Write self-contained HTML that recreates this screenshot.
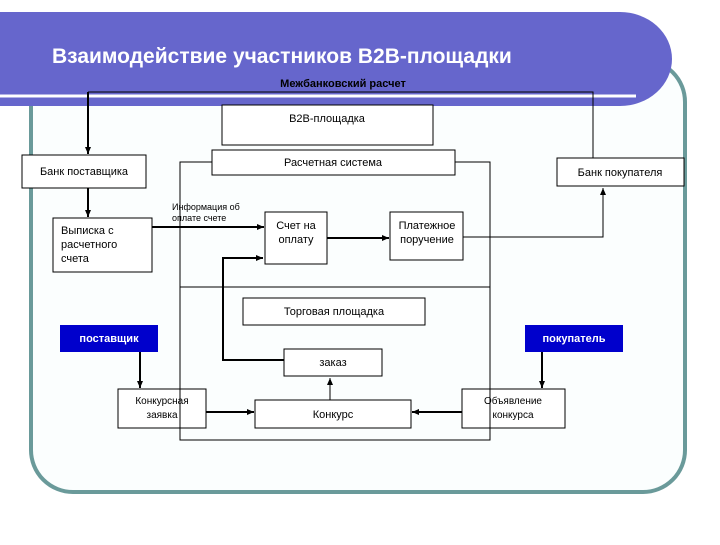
<!DOCTYPE html>
<html><head><meta charset="utf-8"><style>
body{margin:0;width:720px;height:540px;background:#fff;overflow:hidden;font-family:"Liberation Sans",sans-serif}
</style></head><body>
<svg width="720" height="540" xmlns="http://www.w3.org/2000/svg" font-family="Liberation Sans, sans-serif">
<defs><marker id="a" markerWidth="8" markerHeight="8" refX="7" refY="4" orient="auto" markerUnits="userSpaceOnUse"><path d="M0,1 L7,4 L0,7z" fill="#000"/></marker></defs>
<rect x="31" y="60" width="654" height="432" rx="42" fill="#fbfefe" stroke="#6a9a9a" stroke-width="4"/>
<path d="M0,12 H620 A52,47 0 0 1 620,106 H0z" fill="#6666cc"/>
<line x1="0" y1="96" x2="636" y2="96" stroke="#fff" stroke-width="3"/>
<text x="52" y="63" font-size="21" font-weight="bold" fill="#fff">Взаимодействие участников B2B-площадки</text>
<text x="343" y="87" font-size="11" font-weight="bold" text-anchor="middle">Межбанковский расчет</text>
<g fill="#fff" stroke="#000" stroke-width="1">
<rect x="222" y="105" width="211" height="40"/>
<rect x="212" y="150" width="243" height="25"/>
<rect x="22" y="155" width="124" height="33"/>
<rect x="557" y="158" width="127" height="28"/>
<rect x="53" y="218" width="99" height="54"/>
<rect x="265" y="212" width="62" height="52"/>
<rect x="390" y="212" width="73" height="48"/>
<rect x="243" y="298" width="182" height="27"/>
<rect x="284" y="349" width="98" height="27"/>
<rect x="118" y="389" width="88" height="39"/>
<rect x="255" y="400" width="156" height="28"/>
<rect x="462" y="389" width="103" height="39"/>
</g>
<rect x="60" y="325" width="98" height="27" fill="#0000cc"/>
<rect x="525" y="325" width="98" height="27" fill="#0000cc"/>
<g fill="none" stroke="#000" stroke-width="1">
<path d="M212,162 H180 V440 H490 V162 H455"/>
<line x1="180" y1="287" x2="490" y2="287"/>
<path d="M88,92 H593 V158"/>
<path d="M284,360 H223 V258 H263" stroke-width="2" marker-end="url(#a)"/>
<path d="M463,237 H603 V188" marker-end="url(#a)"/>
<path d="M330,400 V378" marker-end="url(#a)"/>
</g>
<g stroke="#000" stroke-width="2" marker-end="url(#a)">
<line x1="88" y1="92" x2="88" y2="154"/>
<line x1="88" y1="188" x2="88" y2="217"/>
<line x1="152" y1="227" x2="264" y2="227"/>
<line x1="327" y1="238" x2="389" y2="238"/>
<line x1="140" y1="352" x2="140" y2="388"/>
<line x1="542" y1="352" x2="542" y2="388"/>
<line x1="206" y1="412" x2="254" y2="412"/>
<line x1="462" y1="412" x2="412" y2="412"/>
</g>
<g font-size="11" text-anchor="middle">
<text x="327" y="122">B2B-площадка</text>
<text x="333" y="166">Расчетная система</text>
<text x="84" y="175">Банк поставщика</text>
<text x="620" y="176">Банк покупателя</text>
<text x="296" y="229">Счет на</text><text x="296" y="243">оплату</text>
<text x="427" y="229">Платежное</text><text x="427" y="243">поручение</text>
<text x="334" y="315">Торговая площадка</text>
<text x="333" y="366">заказ</text>
<text x="162" y="404" font-size="10">Конкурсная</text><text x="162" y="418" font-size="10">заявка</text>
<text x="333" y="418">Конкурс</text>
<text x="513" y="404" font-size="10">Объявление</text><text x="513" y="418" font-size="10">конкурса</text>
</g>
<g font-size="11" fill="#fff" font-weight="bold" text-anchor="middle">
<text x="109" y="342">поставщик</text>
<text x="574" y="342">покупатель</text>
</g>
<g font-size="11"><text x="61" y="234">Выписка с</text><text x="61" y="248">расчетного</text><text x="61" y="262">счета</text></g>
<g font-size="9"><text x="172" y="210">Информация об</text><text x="172" y="221">оплате счете</text></g>
</svg>
</body></html>
